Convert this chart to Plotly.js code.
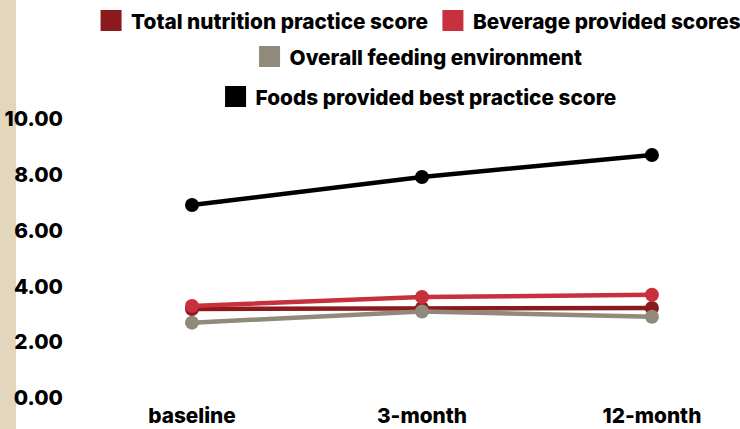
<!DOCTYPE html>
<html>
<head>
<meta charset="utf-8">
<script src="https://cdn.plot.ly/plotly-3.0.1.min.js"></script>
<style>
html,body{margin:0;padding:0;background:#fff;}
#chart{width:740px;height:429px;background:linear-gradient(to right,#e3d6bd 0,#e3d6bd 16px,#ffffff 16px);}
</style>
</head>
<body>
<div id="chart"></div>
<script>
var categories = ["baseline", "3-month", "12-month"];
var seriesNames = ["Total nutrition practice score", "Beverage provided scores", "Overall feeding environment", "Foods provided best practice score"];
var totalNutrition = [3.19, 3.22, 3.23];
var beverageProvided = [3.30, 3.62, 3.70];
var overallFeeding = [2.70, 3.10, 2.91];
var foodsProvided = [6.92, 7.92, 8.71];
var yTickValues = [0, 2, 4, 6, 8, 10];
var yTickLabels = ["0.00", "2.00", "4.00", "6.00", "8.00", "10.00"];

var colors = ["#8b1a1d", "#c8303e", "#918979", "#000000"];
var seriesValues = [totalNutrition, beverageProvided, overallFeeding, foodsProvided];
var legendIds = ["legend", "legend", "legend2", "legend3"];

var traces = [];
seriesValues.forEach(function (vals, i) {
  traces.push({
    x: categories, y: vals, type: "scatter", mode: "lines+markers",
    name: seriesNames[i], showlegend: false, legendgroup: "g" + i,
    line: {color: colors[i], width: 4.5},
    marker: {color: colors[i], size: 14}
  });
});
seriesValues.forEach(function (vals, i) {
  traces.push({
    x: [null], y: [null], type: "scatter", mode: "markers",
    name: seriesNames[i], legendgroup: "g" + i, legend: legendIds[i],
    marker: {color: colors[i], size: 16, symbol: "square", line: {color: colors[i], width: 6}}
  });
});

var font = {family: "Inter, 'Noto Sans', sans-serif", size: 20.8, color: "#000", weight: 800};

function legendAt(y) {
  return {
    orientation: "h", x: 0.5245, xanchor: "center", y: y, yanchor: "middle",
    font: font, bgcolor: "rgba(0,0,0,0)", traceorder: "normal"
  };
}

var layout = {
  width: 740, height: 429,
  margin: {l: 64, r: 0, t: 119, b: 31, autoexpand: false},
  paper_bgcolor: "rgba(0,0,0,0)",
  plot_bgcolor: "rgba(0,0,0,0)",
  font: font,
  showlegend: true,
  legend: legendAt(1.3513),
  legend2: legendAt(1.2222),
  legend3: legendAt(1.0789),
  xaxis: {
    type: "category", range: [-0.5565, 2.383], showgrid: false, zeroline: false,
    showline: false, ticks: "", tickfont: font, fixedrange: true, ticklabelstandoff: 3,
    automargin: false
  },
  yaxis: {
    range: [0, 10], tickvals: yTickValues, ticktext: yTickLabels,
    showgrid: false, zeroline: false, showline: false, ticks: "",
    tickfont: font, fixedrange: true, automargin: false
  }
};

Plotly.newPlot("chart", traces, layout, {displayModeBar: false, staticPlot: true});
</script>
</body>
</html>
